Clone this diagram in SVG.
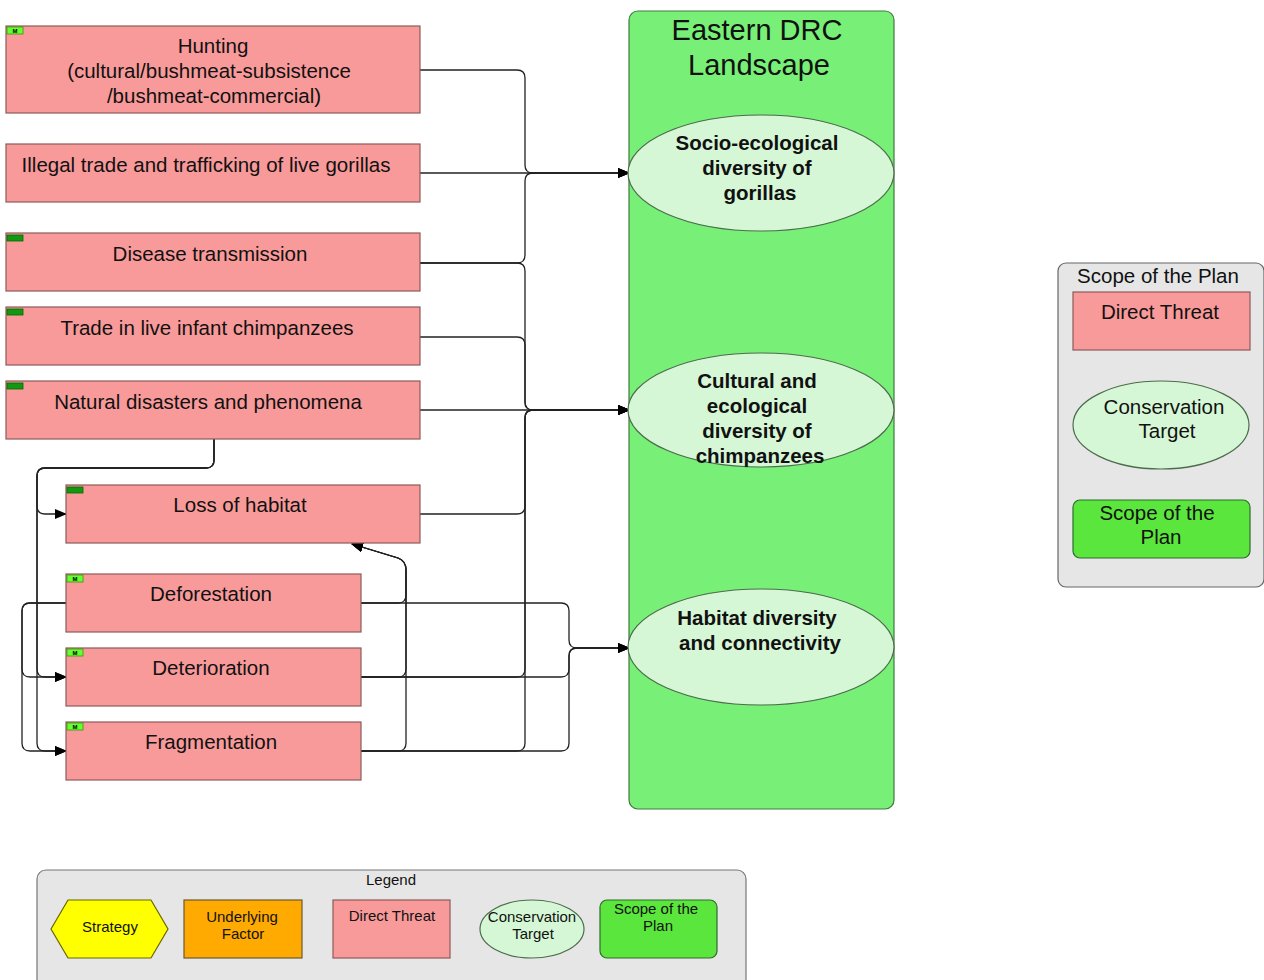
<svg xmlns="http://www.w3.org/2000/svg" width="1264" height="980" viewBox="0 0 1264 980">
<defs>
<marker id="arr" markerWidth="12" markerHeight="10" refX="11" refY="5" orient="auto" markerUnits="userSpaceOnUse">
<path d="M0,0 L12,5 L0,10 Z" fill="#000"/>
</marker>
</defs>
<style>
.thr{fill:#f99a9a;stroke:#8c5a5a;stroke-width:1.2}
.tgt{fill:#d6f7d6;stroke:#4d6b4d;stroke-width:1.2}
.t{font-family:"Liberation Sans",Arial,sans-serif;font-size:20.5px;fill:#111;text-anchor:middle}
.b{font-weight:bold}
.s{font-size:15px}
.tagM{fill:#66ff33;stroke:#339900;stroke-width:0.8}
.tagL{fill:#119911;stroke:#006600;stroke-width:0.8}
.tg{font-family:"Liberation Sans",Arial,sans-serif;font-size:6px;fill:#000;text-anchor:middle;font-weight:bold}
.c{fill:none;stroke:#222;stroke-width:1.3}
.ca{fill:none;stroke:#222;stroke-width:1.3;marker-end:url(#arr)}
</style>
<rect width="1264" height="980" fill="#fff"/>

<g id="scope">
<rect x="629" y="11" width="265" height="798" rx="9" fill="#78f078" stroke="#3f7a3f" stroke-width="1.2"/>
<text class="t" x="757" y="40" style="font-size:29px">Eastern DRC</text>
<text class="t" x="759" y="75" style="font-size:29px">Landscape</text>
</g>

<g id="connectors">
<path class="ca" d="M420,70 H517 Q525,70 525,78 V165 Q525,173 533,173 H629"/>
<path class="ca" d="M420,173 H629"/>
<path class="ca" d="M420,263 H517 Q525,263 525,255 V181 Q525,173 533,173 H629"/>
<path class="ca" d="M420,263 H517 Q525,263 525,271 V402 Q525,410 533,410 H629"/>
<path class="ca" d="M420,337 H517 Q525,337 525,345 V402 Q525,410 533,410 H629"/>
<path class="ca" d="M420,410 H629"/>
<path class="ca" d="M420,514 H517 Q525,514 525,506 V418 Q525,410 533,410 H629"/>
<path class="ca" d="M361,677 H517 Q525,677 525,669 V418 Q525,410 533,410 H629"/>
<path class="ca" d="M361,751 H517 Q525,751 525,743 V418 Q525,410 533,410 H629"/>
<path class="ca" d="M214,439 V460 Q214,468 206,468 H45 Q37,468 37,476 V506 Q37,514 45,514 H66"/>
<path class="ca" d="M214,439 V460 Q214,468 206,468 H45 Q37,468 37,476 V669 Q37,677 45,677 H66"/>
<path class="ca" d="M214,439 V460 Q214,468 206,468 H45 Q37,468 37,476 V743 Q37,751 45,751 H66"/>
<path class="ca" d="M66,603 H30 Q22,603 22,611 V669 Q22,677 30,677 H66"/>
<path class="ca" d="M66,603 H30 Q22,603 22,611 V743 Q22,751 30,751 H66"/>
<path class="ca" d="M361,603 H398 Q406,603 406,595 V570 Q406,561 398,558 L352,544"/>
<path class="ca" d="M361,677 H398 Q406,677 406,669 V570 Q406,561 398,558 L352,544"/>
<path class="ca" d="M361,751 H398 Q406,751 406,743 V570 Q406,561 398,558 L352,544"/>
<path class="ca" d="M361,603 H561 Q569,603 569,611 V640 Q569,648 577,648 H629"/>
<path class="ca" d="M361,677 H561 Q569,677 569,669 V656 Q569,648 577,648 H629"/>
<path class="ca" d="M361,751 H561 Q569,751 569,743 V656 Q569,648 577,648 H629"/>
</g>

<g id="n-hunting">
<rect class="thr" x="6" y="26" width="414" height="87"/>
<rect class="tagM" x="7" y="27" width="16" height="7"/><text class="tg" x="15" y="33">M</text>
<text class="t" x="213" y="53">Hunting</text>
<text class="t" x="209" y="78">(cultural/bushmeat-subsistence</text>
<text class="t" x="214" y="103">/bushmeat-commercial)</text>
</g>
<g id="n-illegal">
<rect class="thr" x="6" y="144" width="414" height="58"/>
<text class="t" x="206" y="172">Illegal trade and trafficking of live gorillas</text>
</g>
<g id="n-disease">
<rect class="thr" x="6" y="233" width="414" height="58"/>
<rect class="tagL" x="7" y="235" width="16" height="6"/>
<text class="t" x="210" y="261">Disease transmission</text>
</g>
<g id="n-trade">
<rect class="thr" x="6" y="307" width="414" height="58"/>
<rect class="tagL" x="7" y="309" width="16" height="6"/>
<text class="t" x="207" y="335">Trade in live infant chimpanzees</text>
</g>
<g id="n-natural">
<rect class="thr" x="6" y="381" width="414" height="58"/>
<rect class="tagL" x="7" y="383" width="16" height="6"/>
<text class="t" x="208" y="409">Natural disasters and phenomena</text>
</g>
<g id="n-loss">
<rect class="thr" x="66" y="485" width="354" height="58"/>
<rect class="tagL" x="67" y="487" width="16" height="6"/>
<text class="t" x="240" y="512">Loss of habitat</text>
</g>
<g id="n-deforestation">
<rect class="thr" x="66" y="574" width="295" height="58"/>
<rect class="tagM" x="67" y="575" width="16" height="7"/><text class="tg" x="75" y="581">M</text>
<text class="t" x="211" y="601">Deforestation</text>
</g>
<g id="n-deterioration">
<rect class="thr" x="66" y="648" width="295" height="58"/>
<rect class="tagM" x="67" y="649" width="16" height="7"/><text class="tg" x="75" y="655">M</text>
<text class="t" x="211" y="675">Deterioration</text>
</g>
<g id="n-fragmentation">
<rect class="thr" x="66" y="722" width="295" height="58"/>
<rect class="tagM" x="67" y="723" width="16" height="7"/><text class="tg" x="75" y="729">M</text>
<text class="t" x="211" y="749">Fragmentation</text>
</g>

<g id="t-gorillas">
<ellipse class="tgt" cx="761" cy="173" rx="133" ry="58"/>
<text class="t b" x="757" y="150">Socio-ecological</text>
<text class="t b" x="757" y="175">diversity of</text>
<text class="t b" x="760" y="200">gorillas</text>
</g>
<g id="t-chimps">
<ellipse class="tgt" cx="761" cy="410" rx="133" ry="57"/>
<text class="t b" x="757" y="388">Cultural and</text>
<text class="t b" x="757" y="413">ecological</text>
<text class="t b" x="757" y="438">diversity of</text>
<text class="t b" x="760" y="463">chimpanzees</text>
</g>
<g id="t-habitat">
<ellipse class="tgt" cx="761" cy="647" rx="133" ry="58"/>
<text class="t b" x="757" y="625">Habitat diversity</text>
<text class="t b" x="760" y="650">and connectivity</text>
</g>

<g id="scope-legend">
<rect x="1058" y="263" width="206" height="324" rx="8" fill="#e6e6e6" stroke="#666" stroke-width="1.2"/>
<text class="t" x="1158" y="283">Scope of the Plan</text>
<rect class="thr" x="1073" y="292" width="177" height="58"/>
<text class="t" x="1160" y="319">Direct Threat</text>
<ellipse class="tgt" cx="1161" cy="425" rx="88" ry="44"/>
<text class="t" x="1164" y="414">Conservation</text>
<text class="t" x="1167" y="438">Target</text>
<rect x="1073" y="500" width="177" height="58" rx="7" fill="#5ae63c" stroke="#2f6b2f" stroke-width="1.2"/>
<text class="t" x="1157" y="520">Scope of the</text>
<text class="t" x="1161" y="544">Plan</text>
</g>

<g id="legend">
<rect x="37" y="870" width="709" height="130" rx="9" fill="#e6e6e6" stroke="#777" stroke-width="1.2"/>
<text class="t s" x="391" y="885">Legend</text>
<polygon points="51,929 68,900 151,900 168,929 151,958 68,958" fill="#ffff00" stroke="#666600" stroke-width="1.2"/>
<text class="t s" x="110" y="932">Strategy</text>
<rect x="184" y="900" width="118" height="58" fill="#ffaa00" stroke="#6b5a2f" stroke-width="1.2"/>
<text class="t s" x="242" y="922">Underlying</text>
<text class="t s" x="243" y="939">Factor</text>
<rect class="thr" x="333" y="900" width="117" height="58"/>
<text class="t s" x="392" y="921">Direct Threat</text>
<ellipse class="tgt" cx="532" cy="929" rx="52" ry="29"/>
<text class="t s" x="532" y="922">Conservation</text>
<text class="t s" x="533" y="939">Target</text>
<rect x="600" y="900" width="117" height="58" rx="7" fill="#5ae63c" stroke="#2f6b2f" stroke-width="1.2"/>
<text class="t s" x="656" y="914">Scope of the</text>
<text class="t s" x="658" y="931">Plan</text>
</g>
</svg>
